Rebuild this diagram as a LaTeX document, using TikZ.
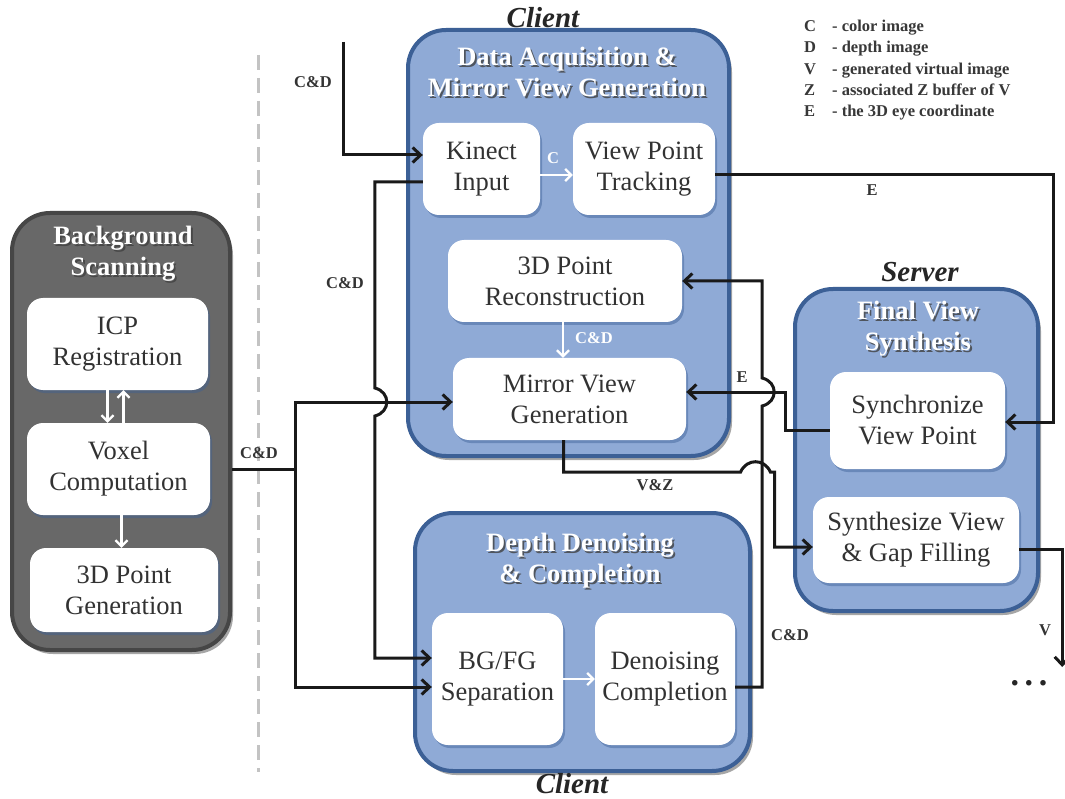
\documentclass[tikz,border=0pt]{standalone}
\usepackage{fontspec}
\setmainfont{Liberation Serif}
\usetikzlibrary{arrows.meta,shadows}
\definecolor{boxblue}{RGB}{143,170,214}
\definecolor{boxborder}{RGB}{60,96,150}
\definecolor{boxgray}{RGB}{104,104,104}
\definecolor{grayborder}{RGB}{70,70,70}
\definecolor{textgray}{RGB}{50,50,50}
\definecolor{sepgray}{RGB}{195,195,195}
\newcommand\shadowtitle[4]{%
  \node[titleshadow] (#1s) at (#2+1.8,#3+1.8) {#4};
  \node[titletext] (#1) at (#2,#3) {#4};}
\tikzset{
  container/.style={draw=boxborder, line width=4pt, fill=boxblue, rounded corners=38pt, inner sep=0pt,
    drop shadow={shadow xshift=3pt, shadow yshift=-4pt, opacity=0.35, fill=black}},
  graycontainer/.style={container, draw=grayborder, fill=boxgray},
  stepbox/.style={fill=white, rounded corners=16pt, draw=none, inner sep=0pt,
    font=\rmfamily\fontsize{26.5}{31}\selectfont, text=textgray, align=center,
    drop shadow={shadow xshift=2pt, shadow yshift=-3pt, fill=boxborder, opacity=0.45}},
  titletext/.style={font=\bfseries\fontsize{26.5}{31}\selectfont, text=white, align=center},
  titleshadow/.style={font=\bfseries\fontsize{26.5}{31}\selectfont, text=black!75, align=center, opacity=0.8},
  place/.style={font=\bfseries\itshape\fontsize{29}{32}\selectfont, text=black!85},
  conn/.style={line width=3pt, draw=black!90, -{Straight Barb[length=8pt,width=15pt]}},
  connline/.style={line width=3pt, draw=black!90},
  warr/.style={line width=2.3pt, draw=white, -{Straight Barb[length=6pt,width=12pt]}},
  lbl/.style={font=\bfseries\fontsize{16.5}{19}\selectfont, text=black!80},
  wlbl/.style={font=\bfseries\fontsize{16.5}{19}\selectfont, text=white},
  sep/.style={draw=sepgray, line width=3pt, dash pattern=on 15pt off 8pt}
}
\begin{document}
\begin{tikzpicture}[x=1pt,y=-1pt]
\fill[white] (0,0) rectangle (1065,799);
\useasboundingbox (0,0) rectangle (1065,799);

% separator
\draw[sep] (258,55) -- (258,772);

% containers
\node[container, minimum width=321, minimum height=426] (da) at (568.5,243) {};
\node[graycontainer, minimum width=218, minimum height=437] (bs) at (121,431.5) {};
\node[container, minimum width=335, minimum height=258] (dd) at (582.5,642) {};
\node[container, minimum width=243, minimum height=322] (fv) at (916.5,450) {};

% titles
\shadowtitle{tda}{567}{72}{Data Acquisition \&\\Mirror View Generation}
\shadowtitle{tbs}{123}{254}{Background\\Scanning}
\shadowtitle{tdd}{580}{561}{Depth Denoising\\\& Completion}
\shadowtitle{tfv}{918}{329}{Final View\\Synthesis}

% place labels
\node[place] (client1) at (543,18) {Client};
\node[place] (client2) at (572,784) {Client};
\node[place] (server) at (920,272) {Server};

% steps
\node[stepbox, minimum width=117, minimum height=92] (kin) at (481.5,169) {Kinect\\Input};
\node[stepbox, minimum width=142, minimum height=92] (vpt) at (644,169) {View Point\\Tracking};
\node[stepbox, minimum width=234, minimum height=82] (rec) at (565,281) {3D Point\\Reconstruction};
\node[stepbox, minimum width=233, minimum height=82] (mvg) at (569.5,399) {Mirror View\\Generation};
\node[stepbox, minimum width=181, minimum height=92] (icp) at (117.5,344) {ICP\\Registration};
\node[stepbox, minimum width=183, minimum height=92] (vox) at (118.5,469) {Voxel\\Computation};
\node[stepbox, minimum width=188, minimum height=84] (gen) at (124,590) {3D Point\\Generation};
\node[stepbox, minimum width=131, minimum height=132] (bgfg) at (497.5,679) {BG/FG\\Separation};
\node[stepbox, minimum width=140, minimum height=132] (den) at (665,679) {Denoising\\Completion};
\node[stepbox, minimum width=175, minimum height=97] (syn) at (917.5,420.5) {Synchronize\\View Point};
\node[stepbox, minimum width=206, minimum height=86] (gap) at (916,540) {Synthesize View\\\& Gap Filling};

% legend
\node[anchor=west, font=\bfseries\fontsize{16.5}{21.3}\selectfont, text=black!78, inner sep=0pt] (legend) at (804,70)
  {\begin{tabular}{@{}p{28pt}@{}l@{}}
   C & - color image\\
   D & - depth image\\
   V & - generated virtual image\\
   Z & - associated Z buffer of V\\
   E & - the 3D eye coordinate
   \end{tabular}};

% white internal arrows
\draw[warr] ([yshift=-6pt]kin.east) -- ([yshift=-6pt]vpt.west);
\node[wlbl] (lc) at (553,158) {C};
\draw[warr] ([xshift=-2pt]rec.south) -- ([xshift=-2pt]rec.south |- mvg.north);
\node[wlbl] (lcd2) at (594,338) {C\&D};
\draw[warr] (bgfg.east) -- (den.west);
\draw[warr] ([xshift=-10pt]icp.south) -- ([xshift=-10pt]icp.south |- vox.north);
\draw[warr] ([xshift=6pt]icp.south |- vox.north) -- ([xshift=6pt]icp.south);
\draw[warr] ([xshift=3pt]vox.south) -- ([xshift=3pt]vox.south |- gen.north);

% external connectors
\coordinate (cdin) at (343,42);
\draw[conn] (cdin) |- ([yshift=14pt]kin.west);
\node[lbl] (lcd1) at (313,82) {C\&D};

\draw[conn] ([yshift=-13pt]kin.west) -- ++(-48,0) -- ++(0,206)
  .. controls +(16,4) and +(16,-4) .. ++(0,28) |- ([yshift=21pt]bgfg.west);
\node[lbl] (lcd3) at (345,283) {C\&D};

\draw[connline] (bs.east |- vox.east) -- ++(63,0) coordinate (j1);
\draw[conn] (j1) |- ([yshift=-3pt]mvg.west);
\draw[conn] (j1) |- ([yshift=-8pt]bgfg.west);
\node[lbl] (lcd4) at (259,453) {C\&D};

\draw[conn] ([yshift=-6pt]vpt.east) -- ++(338,0) |- ([yshift=-1.5pt]syn.east);
\node[lbl] (le1) at (872,190) {E};

\draw[conn] ([yshift=-10pt]syn.west) -- ++(-44,0) |- ([yshift=7pt]mvg.east);
\node[lbl] (le2) at (742,377) {E};

\draw[conn] ([yshift=-8pt]den.east) -- ++(27,0) -- ++(0,-281)
  .. controls +(16,-4) and +(16,4) .. ++(0,-28) |- (rec.east);
\node[lbl] (lcd5) at (790,635) {C\&D};

\draw[conn] ([xshift=-6pt]mvg.south) -- ++(0,32) -- ++(177,0)
  .. controls +(6,-14) and +(-6,-14) .. ++(30,0) -- ++(4,0) |- ([yshift=-7pt]gap.west);
\node[lbl] (lvz) at (655,485) {V\&Z};

\draw[conn] ([yshift=-9pt]gap.east) -- ++(43,0) -- ++(0,118);
\node[lbl] (lv) at (1045,630) {V};
\node[font=\bfseries\fontsize{34}{34}\selectfont, text=black!85] (dots) at (1029,683) {.\,.\,.};
\end{tikzpicture}
\end{document}
